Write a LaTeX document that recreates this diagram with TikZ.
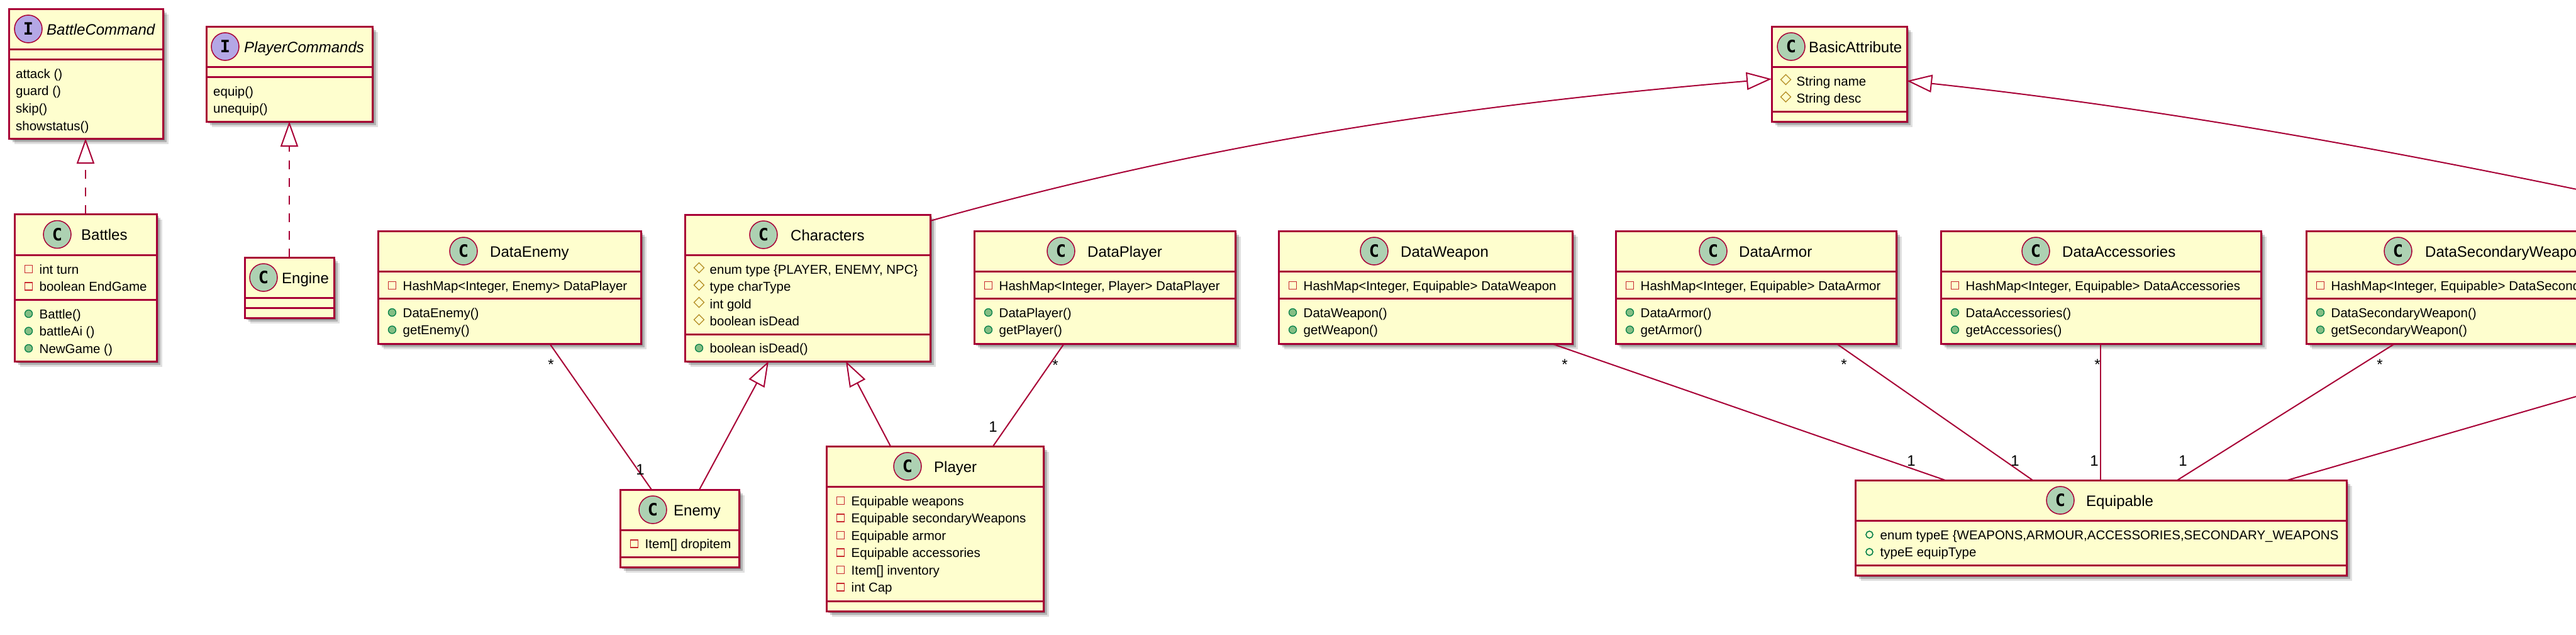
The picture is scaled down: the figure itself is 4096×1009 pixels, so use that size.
\documentclass[tikz,border=0pt]{standalone}
\usepackage{fontspec}
\setmainfont{Liberation Sans}
\newfontfamily\umlmono{DejaVu Sans Mono}
\usetikzlibrary{arrows.meta}
\definecolor{boxfill}{HTML}{FEFECE}
\definecolor{umlred}{HTML}{A80036}
\definecolor{cgreen}{HTML}{ADD1B2}
\definecolor{ipurple}{HTML}{B4A7E5}
\definecolor{privred}{HTML}{C82930}
\definecolor{pubgreen}{HTML}{038048}
\definecolor{pubfill}{HTML}{84BE84}
\definecolor{protgold}{HTML}{B38D22}
\newcounter{tc}
\newcommand\umlattrfont{\fontsize{20.5}{24}\selectfont}
\newcommand\umltitlefont{\fontsize{24}{28}\selectfont}
\newcommand\umlmultfont{\fontsize{24}{28}\selectfont}
\newcommand\umlletterfont{\umlmono\bfseries\fontsize{27}{30}\selectfont}
\tikzset{
 umlbox/.style={draw=umlred, fill=boxfill, line width=3pt, rectangle, anchor=north west, inner sep=0pt, outer sep=0pt},
 sepline/.style={draw=umlred, line width=3pt},
 conn/.style={draw=umlred, line width=2pt},
 realize/.style={conn, dash pattern=on 14pt off 14pt, -{Triangle[length=40pt,width=28pt,fill=white]}},
 inherit/.style={conn, -{Triangle[length=40pt,width=28pt,fill=white]}},
 membtxt/.style={anchor=base west, inner sep=0pt, font=\umlattrfont},
 titletxt/.style={anchor=base west, inner sep=0pt, font=\umltitlefont},
 letter/.style={inner sep=0pt, font=\umlletterfont},
 multtxt/.style={anchor=base, inner sep=0pt, font=\umlmultfont},
}
% class box: name, x1, y1, x2, y2, sep1, sep2
\newcommand\umlclass[7]{%
  \pgfmathsetmacro\bw{#4-#2}\pgfmathsetmacro\bh{#5-#3}%
  \foreach \sh/\op in {3/0.28,6/0.2,9/0.12}{\fill[black,opacity=\op] (#2+\sh,#3+\sh) rectangle (#4+\sh,#5+\sh);}%
  \node[umlbox, minimum width=\bw pt, minimum height=\bh pt] (#1) at (#2,#3) {};%
  \draw[sepline] (#2,#6) -- (#4,#6) (#2,#7) -- (#4,#7);%
}
\newcommand\classtitle[4]{%
  \filldraw[fill=cgreen, draw=umlred, line width=1.5pt] (#1,#2) circle[radius=22];%
  \stepcounter{tc}\node[letter] (t\arabic{tc}) at (#1,#2) {C};%
  \stepcounter{tc}\node[titletxt] (t\arabic{tc}) at (#3,#2+9) {#4};}
\newcommand\ifacetitle[4]{%
  \filldraw[fill=ipurple, draw=umlred, line width=1.5pt] (#1,#2) circle[radius=22];%
  \stepcounter{tc}\node[letter] (t\arabic{tc}) at (#1,#2) {I};%
  \stepcounter{tc}\node[titletxt, font=\umltitlefont\itshape] (t\arabic{tc}) at (#3,#2+9) {#4};}
\newcommand\mtext[3]{\stepcounter{tc}\node[membtxt] (t\arabic{tc}) at (#1,#2+7.5) {#3};}
\newcommand\privf[3]{\draw[privred, line width=1.3pt] (#1+16.5,#2-6) rectangle (#1+28.5,#2+6); \mtext{#1+39.5}{#2}{#3}}
\newcommand\pubm[3]{\filldraw[fill=pubfill, draw=pubgreen, line width=1.3pt] (#1+22.5,#2) circle[radius=6]; \mtext{#1+39.5}{#2}{#3}}
\newcommand\pubf[3]{\draw[pubgreen, line width=1.6pt] (#1+22.5,#2) circle[radius=5.5]; \mtext{#1+39.5}{#2}{#3}}
\newcommand\protf[3]{\draw[protgold, line width=1.3pt] (#1+22.5,#2-10) -- (#1+30.5,#2-2) -- (#1+22.5,#2+6) -- (#1+14.5,#2-2) -- cycle; \mtext{#1+39.5}{#2}{#3}}
\newcommand\plainm[3]{\mtext{#1+11}{#2}{#3}}
\newcommand\multstar[2]{\stepcounter{tc}\node[multtxt] (t\arabic{tc}) at (#1,#2+14) {*};}
\newcommand\multone[2]{\stepcounter{tc}\node[multtxt] (t\arabic{tc}) at (#1,#2+8.6) {1};}

\begin{document}
\begin{tikzpicture}[x=1pt, y=-1pt]
\useasboundingbox (0,0) rectangle (4096,1009);
\fill[white] (0,0) rectangle (4096,1009);
\clip (0,0) rectangle (4096,1009);

% ---- BattleCommand
\umlclass{battlecommand}{14}{14}{259}{220}{78}{94}
\ifacetitle{45}{46}{74}{BattleCommand}
\plainm{14}{116.5}{attack ()}
\plainm{14}{144.2}{guard ()}
\plainm{14}{171.9}{skip()}
\plainm{14}{199.6}{showstatus()}

% ---- PlayerCommands
\umlclass{playercommands}{328}{42}{592}{193}{106}{122}
\ifacetitle{358}{74}{388}{PlayerCommands}
\plainm{328}{144.5}{equip()}
\plainm{328}{172.2}{unequip()}

% ---- Battles
\umlclass{battles}{23}{340}{249}{574}{405}{476}
\classtitle{91}{372.5}{129}{Battles}
\privf{23}{427.5}{int turn}
\privf{23}{455}{boolean EndGame}
\pubm{23}{498.5}{Battle()}
\pubm{23}{526}{battleAi ()}
\pubm{23}{553.5}{NewGame ()}

% ---- Engine
\umlclass{engine}{389}{409}{531}{505}{473}{489}
\classtitle{419}{441}{448}{Engine}

% ---- DataEnemy
\umlclass{dataenemy}{601}{367}{1019}{546}{431}{474}
\classtitle{737}{399}{779}{DataEnemy}
\privf{601}{453.5}{HashMap<Integer, Enemy> DataPlayer}
\pubm{601}{496.5}{DataEnemy()}
\pubm{601}{524}{getEnemy()}

% ---- Characters
\umlclass{characters}{1089}{341}{1479}{574}{405}{531}
\classtitle{1214}{373}{1257}{Characters}
\protf{1089}{427.5}{enum type \{PLAYER, ENEMY, NPC\}}
\protf{1089}{455}{type charType}
\protf{1089}{482.5}{int gold}
\protf{1089}{510}{boolean isDead}
\pubm{1089}{553}{boolean isDead()}

% ---- Enemy
\umlclass{enemy}{986}{778}{1175}{901}{842}{885}
\classtitle{1038}{810}{1071}{Enemy}
\privf{986}{864}{Item[] dropitem}

% ---- Player
\umlclass{player}{1314}{709}{1659}{971}{773}{955}
\classtitle{1443}{741}{1485}{Player}
\privf{1314}{795.5}{Equipable weapons}
\privf{1314}{823}{Equipable secondaryWeapons}
\privf{1314}{850.5}{Equipable armor}
\privf{1314}{878}{Equipable accessories}
\privf{1314}{905.5}{Item[] inventory}
\privf{1314}{933}{int Cap}

% ---- DataPlayer
\umlclass{dataplayer}{1549}{367}{1964}{546}{431}{474}
\classtitle{1687}{399}{1729}{DataPlayer}
\privf{1549}{453.5}{HashMap<Integer, Player> DataPlayer}
\pubm{1549}{496.5}{DataPlayer()}
\pubm{1549}{524}{getPlayer()}

% ---- DataWeapon
\umlclass{dataweapon}{2033}{367}{2500}{546}{431}{474}
\classtitle{2185}{399}{2227}{DataWeapon}
\privf{2033}{453.5}{HashMap<Integer, Equipable> DataWeapon}
\pubm{2033}{496.5}{DataWeapon()}
\pubm{2033}{524}{getWeapon()}

% ---- DataArmor
\umlclass{dataarmor}{2569}{367}{3015}{546}{431}{474}
\classtitle{2724}{399}{2765}{DataArmor}
\privf{2569}{453.5}{HashMap<Integer, Equipable> DataArmor}
\pubm{2569}{496.5}{DataArmor()}
\pubm{2569}{524}{getArmor()}

% ---- DataAccessories
\umlclass{dataaccessories}{3086}{367}{3595}{546}{431}{474}
\classtitle{3237}{399}{3279}{DataAccessories}
\privf{3086}{453.5}{HashMap<Integer, Equipable> DataAccessories}
\pubm{3086}{496.5}{DataAccessories()}
\pubm{3086}{524}{getAccessories()}

% ---- DataSecondaryWeapon
\umlclass{datasecondaryweapon}{3667}{367}{4228}{546}{431}{474}
\classtitle{3813}{399}{3856}{DataSecondaryWeapon}
\privf{3667}{453.5}{HashMap<Integer, Equipable> DataSecondaryWeapon}
\pubm{3667}{496.5}{DataSecondaryWeapon()}
\pubm{3667}{524}{getSecondaryWeapon()}

% ---- BasicAttribute
\umlclass{basicattribute}{2817}{42}{3032}{193}{106}{177}
\classtitle{2848}{74}{2876}{BasicAttribute}
\protf{2817}{128.5}{String name}
\protf{2817}{156}{String desc}

% ---- Equipable
\umlclass{equipable}{2950}{763}{3731}{914}{827}{898}
\classtitle{3276}{795}{3317}{Equipable}
\pubf{2950}{849.5}{enum typeE \{WEAPONS,ARMOUR,ACCESSORIES,SECONDARY\_WEAPONS}
\pubf{2950}{877}{typeE equipType}

% ---- off-canvas ends
\coordinate (offA) at (4350,355);
\coordinate (offB) at (4300,571);

% ---- connectors
\draw[realize] ([xshift=113pt]battles.north west) -- ([xshift=122pt]battlecommand.south west);
\draw[realize] ([xshift=71pt]engine.north west) -- ([xshift=132pt]playercommands.south west);
\draw[conn] ([xshift=273pt]dataenemy.south west) -- ([xshift=50pt]enemy.north west);
\draw[inherit] ([xshift=126pt]enemy.north west) -- ([xshift=133pt]characters.south west);
\draw[inherit] ([xshift=102pt]player.north west) -- ([xshift=256pt]characters.south west);
\draw[conn] ([xshift=143pt]dataplayer.south west) -- ([xshift=265pt]player.north west);
\draw[inherit] ([yshift=-10pt]characters.north east) .. controls (1929,225) and (2327,167) .. ([yshift=-8pt]basicattribute.west);
\draw[inherit] (offA) .. controls (3900,256) and (3482,177) .. ([yshift=-11pt]basicattribute.east);
\draw[conn] ([xshift=434pt]dataweapon.south west) -- ([xshift=143pt]equipable.north west);
\draw[conn] ([xshift=351pt]dataarmor.south west) -- ([xshift=282pt]equipable.north west);
\draw[conn] ([xshift=254pt]dataaccessories.south west) -- ([xshift=390pt]equipable.north west);
\draw[conn] ([xshift=141pt]datasecondaryweapon.south west) -- ([xshift=512pt]equipable.north west);
\draw[conn] ([xshift=687pt]equipable.north west) -- (offB);

% ---- multiplicities
\multstar{876}{573}\multone{1018}{746}
\multstar{1678}{574}\multone{1579}{678}
\multstar{2488}{573}\multone{3039}{732}
\multstar{2932}{573}\multone{3204}{732}
\multstar{3335}{573}\multone{3330}{732}
\multstar{3784}{573}\multone{3471}{732}
\end{tikzpicture}
\end{document}
